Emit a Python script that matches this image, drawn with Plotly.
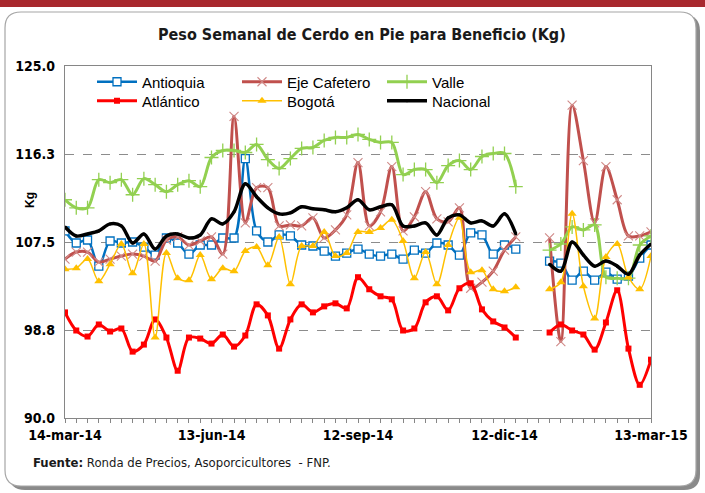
import plotly.graph_objects as go

N = None
weeks = list(range(53))
tick_pos = [0, 13, 26, 39, 52]
tick_labels = ["14-mar-14", "13-jun-14", "12-sep-14", "12-dic-14", "13-mar-15"]

antioquia = [108.6, 107.4, 107.7, 105.1, 107.6, 107.4, 107.5, 107.0, 106.2, 107.9, 107.4, 106.3, 107.2,
             107.2, 107.9, 107.9, 115.8, 108.6, 107.5, 108.2, 108.1, 107.2, 107.1, 106.6, 106.1, 106.4,
             106.8, 106.3, 106.1, 106.3, 105.8, 106.7, 106.4, 107.4, 107.2, 106.2, 108.4, 108.2, 106.3,
             107.2, 106.8, N, N, 105.6, 105.4, 103.7, 104.6, 103.7, 104.5, 103.8, 104.1, 105.9, 107.2]
eje = [105.8, 106.5, 106.5, 105.5, 105.8, 106.1, 106.3, 106.1, 105.6, 107.7, 108.0, 107.2, 107.6,
       108.0, 106.3, 120.0, 109.4, 112.9, 112.9, 109.1, 109.2, 109.1, 109.9, 107.9, 108.7, 110.2,
       115.4, 109.1, 110.5, 115.0, 108.6, 110.0, 112.5, 109.8, 109.5, 110.9, 102.9, 103.5, 104.6,
       106.7, 108.0, N, N, 107.9, 97.6, 121.1, 115.6, 109.4, 115.0, 111.7, 108.1, 108.1, 108.5]
valle = [111.7, 110.9, 110.9, 113.7, 113.4, 113.7, 112.2, 113.8, 113.2, 112.5, 113.2, 113.6, 113.0,
         115.9, 116.6, 116.6, 116.4, 117.2, 115.7, 114.8, 115.8, 116.8, 116.9, 117.6, 117.9, 117.9,
         118.2, 117.7, 117.4, 117.4, 114.2, 114.7, 114.7, 113.4, 115.1, 115.6, 114.7, 116.0, 116.3,
         116.3, 113.0, N, N, 106.7, 107.3, 109.0, 108.7, 109.2, 104.0, 103.9, 103.9, 107.2, 108.1]
atlantico = [100.5, 98.7, 98.1, 99.3, 98.6, 98.9, 96.6, 97.3, 99.8, 98.0, 94.7, 98.0, 97.9,
             97.4, 98.3, 97.1, 98.2, 101.3, 100.2, 96.9, 99.8, 101.3, 100.5, 101.1, 101.4, 100.9,
             104.0, 102.8, 102.1, 101.8, 98.7, 98.9, 101.5, 102.1, 100.7, 102.9, 103.4, 100.8, 99.6,
             99.0, 98.0, N, N, 98.5, 99.3, 98.7, 98.3, 96.8, 99.5, 102.7, 96.9, 93.3, 95.8]
bogota = [104.8, 104.9, 105.8, 103.6, 105.3, 107.3, 104.4, 107.3, 98.0, 106.4, 103.9, 103.7, 106.2,
          103.8, 104.9, 104.6, 106.6, 107.0, 105.2, 108.0, 103.3, 107.1, 107.1, 108.5, 106.1, 106.4,
          108.5, 108.5, 108.9, 109.7, 107.6, 103.9, 106.5, 103.3, 107.2, 109.9, 104.5, 104.7, 102.8,
          102.6, 103.0, N, N, 102.8, 103.5, 110.3, 103.1, 99.9, 106.0, 107.3, 104.0, 102.8, 106.1]
nacional = [109.0, 108.1, 108.3, 108.6, 109.3, 109.1, 107.4, 108.3, 106.8, 108.1, 108.3, 107.9, 108.2,
            109.8, 109.3, 110.5, 113.3, 112.0, 110.9, 110.3, 110.4, 111.0, 110.8, 110.7, 110.5, 110.9,
            111.7, 110.7, 111.0, 111.2, 109.1, 109.1, 109.4, 108.2, 109.9, 110.2, 109.4, 109.6, 109.1,
            110.3, 108.3, N, N, 105.3, 104.6, 107.5, 106.2, 105.1, 105.6, 105.1, 104.3, 106.2, 107.3]

y_ticks = [90.0, 98.75, 107.5, 116.25, 125.0]
y_tick_text = ["90.0", "98.8", "107.5", "116.3", "125.0"]

W, H = 705, 493
L, R, T, B = 65, 651, 66, 418
pw, ph = R - L, B - T

def px(x):
    return (x - L) / pw

def py(y):
    return (B - y) / ph

NARROW = "Liberation Sans Narrow, Arial Narrow, DejaVu Sans Condensed, sans-serif"
ARIAL = "Liberation Sans, Arial, sans-serif"

fig = go.Figure()

def add(name, y, color, lw, symbol, msize, mfill, mcolor, mline, legend):
    fig.add_trace(go.Scatter(
        x=weeks, y=y, name=name, mode="lines+markers",
        line=dict(color=color, width=lw, shape="spline", smoothing=0.9),
        marker=dict(symbol=symbol, size=msize, color=mfill, line=dict(color=mcolor, width=mline)),
        connectgaps=False, legend=legend))

add("Antioquia", antioquia, "#0070C0", 2.5, "square", 8, "white", "#0070C0", 1.3, "legend")
add("Eje Cafetero", eje, "#C0504D", 3, "x-thin-open", 9, "#D08A88", "#D08A88", 1.1, "legend")
add("Valle", valle, "#92D050", 3, "cross-thin-open", 10, "#92D050", "#92D050", 1.3, "legend")
add("Atlántico", atlantico, "#FF0000", 3, "square", 6, "#FF0000", "#FF0000", 0, "legend2")
add("Bogotá", bogota, "#FFC000", 1.5, "triangle-up", 8, "#FFC000", "#FFC000", 0, "legend2")
add("Nacional", nacional, "#000000", 3.5, "circle", 3, "#000000", "#000000", 0, "legend2")

def rrect(x0, y0, x1, y1, r):
    X0, X1 = px(x0), px(x1)
    Y0, Y1 = py(y0), py(y1)
    rx, ry = r / pw, r / ph
    return (f"M {X0+rx},{Y0} L {X1-rx},{Y0} Q {X1},{Y0} {X1},{Y0-ry} "
            f"L {X1},{Y1+ry} Q {X1},{Y1} {X1-rx},{Y1} L {X0+rx},{Y1} "
            f"Q {X0},{Y1} {X0},{Y1+ry} L {X0},{Y0-ry} Q {X0},{Y0} {X0+rx},{Y0} Z")

shapes = [
    dict(type="rect", xref="paper", yref="paper", x0=px(0), x1=px(W), y0=py(0), y1=py(7),
         fillcolor="#A8282E", line=dict(width=0), layer="below"),
    dict(type="path", xref="paper", yref="paper", path=rrect(9, 15, 700, 490, 16),
         fillcolor="#8a8a8a", line=dict(width=0), layer="below"),
    dict(type="path", xref="paper", yref="paper", path=rrect(5, 12, 696, 486, 16),
         fillcolor="white", line=dict(color="#a6a6a6", width=1.2), layer="below"),
]

annotations = [
    dict(text="<b>Peso Semanal de Cerdo en Pie para Beneficio (Kg)</b>", xref="paper", yref="paper",
         x=px(362), y=py(34), xanchor="center", yanchor="middle", showarrow=False,
         font=dict(family=NARROW, size=16, color="#1a1a1a")),
    dict(text="<b>Kg</b>", xref="paper", yref="paper", x=px(30), y=py(200), textangle=-90,
         xanchor="center", yanchor="middle", showarrow=False,
         font=dict(family=ARIAL, size=12, color="black")),
    dict(text="<b>Fuente:</b> Ronda de Precios, Asoporcicultores  - FNP.", xref="paper", yref="paper",
         x=px(31), y=py(462), xanchor="left", yanchor="middle", showarrow=False,
         font=dict(family=NARROW, size=13, color="#1a1a1a")),
]

legend_common = dict(orientation="h", xanchor="left", yanchor="middle",
                     entrywidth=90, entrywidthmode="pixels", bgcolor="rgba(0,0,0,0)",
                     font=dict(family=ARIAL, size=15, color="black"), itemwidth=40, tracegroupgap=0)

fig.update_layout(
    width=W, height=H, autosize=False,
    margin=dict(l=L, r=W - R, t=T, b=H - B),
    paper_bgcolor="white", plot_bgcolor="rgba(0,0,0,0)",
    shapes=shapes, annotations=annotations,
    legend=dict(x=px(92), y=py(82), **legend_common),
    legend2=dict(x=px(92), y=py(101), **legend_common),
    xaxis=dict(range=[0, 52], tickmode="array", tickvals=weeks,
               ticktext=[("<b>" + tick_labels[tick_pos.index(w)] + "</b>") if w in tick_pos else ""
                         for w in weeks],
               ticks="outside", ticklen=4, tickcolor="#868686", showgrid=False, zeroline=False,
               showline=True, linecolor="#868686", linewidth=1.2, mirror=True,
               tickfont=dict(family=NARROW, size=14, color="black"), tickangle=0),
    yaxis=dict(range=[90, 125], tickmode="array", tickvals=y_ticks,
               ticktext=["<b>" + t + "</b>" for t in y_tick_text],
               showgrid=True, gridcolor="#8c8c8c", griddash="dash", gridwidth=1, zeroline=False,
               showline=True, linecolor="#868686", linewidth=1.2, mirror=True, ticks="",
               ticklabelstandoff=6,
               tickfont=dict(family=NARROW, size=14, color="black")),
    showlegend=True,
)

fig.write_html("out.html", config={"displayModeBar": False},
               post_script="document.body.style.margin='0';")
